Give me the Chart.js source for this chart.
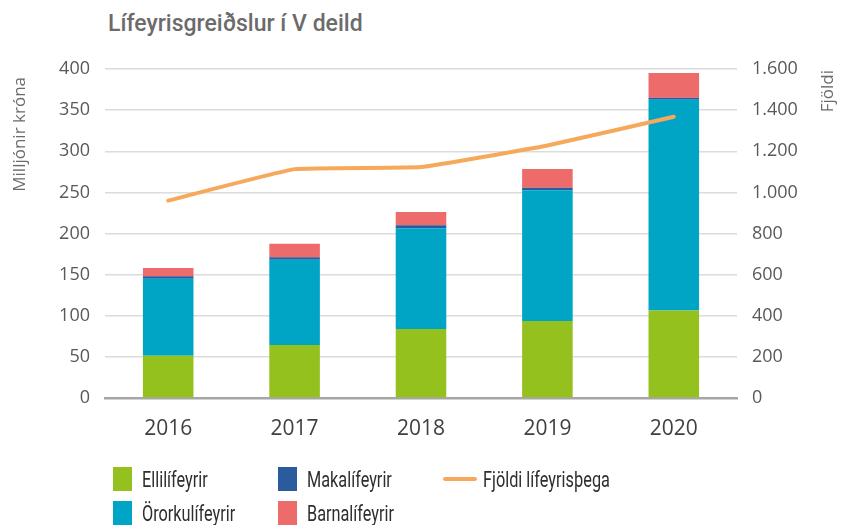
<!DOCTYPE html>
<html lang="is">
<head>
<meta charset="utf-8">
<title>Lífeyrisgreiðslur í V deild</title>
<script src="https://cdn.jsdelivr.net/npm/chart.js@4.4.1/dist/chart.umd.min.js"></script>
<style>
  html, body { margin: 0; padding: 0; background: #fff; }
  body { width: 844px; height: 525px; position: relative; overflow: hidden; font-family: 'Open Sans', sans-serif; }
  #title { position: absolute; left: 108px; top: 12px; font: 500 23px/23px Roboto, sans-serif; color: #6b6b6b; }
  #wrap { position: absolute; left: 0; top: 0; width: 844px; height: 450px; }
  #legend { position: absolute; left: 0; top: 0; width: 844px; height: 525px; pointer-events: none; }
  .lg-item { position: absolute; display: flex; align-items: center; white-space: nowrap; }
  .lg-text { display: inline-block; font: 22px Roboto, sans-serif; color: #2e2e2e; transform: scaleX(0.74); transform-origin: left center; }
  .lg-box { width: 19px; height: 24px; margin-right: 10px; }
  .lg-line { width: 34px; height: 4px; border-radius: 2px; margin-right: 6px; }
</style>
</head>
<body>
<div id="title">Lífeyrisgreiðslur í V deild</div>
<div id="wrap"><canvas id="chart"></canvas></div>
<div id="legend"></div>
<script>
// Lífeyrisgreiðslur í V deild — staflaðar súlur (m.kr.) + lína (fjöldi)

const years = ['2016', '2017', '2018', '2019', '2020'];
const ellilifeyrir = [51.5, 64.5, 84, 93.5, 106.5];
const ororkulifeyrir = [93.5, 103.5, 122.5, 159, 256];
const makalifeyrir = [3, 3, 3.5, 3, 2.5];
const barnalifeyrir = [10, 16.5, 16, 23, 30];
const fjoldi = [960, 1113, 1123, 1228, 1368];

const leftTicks = [0, 50, 100, 150, 200, 250, 300, 350, 400];
const rightTicks = [0, 200, 400, 600, 800, 1000, 1200, 1400, 1600];

const colors = {
  elli: '#95c11f',
  ororku: '#00a5c6',
  maka: '#2a5b9c',
  barna: '#ee6b6b',
  fjoldi: '#f6a95a'
};

const tickFont = { family: "'Open Sans', sans-serif", size: 18 };

// ásatitlar teiknaðir sér svo báðir lesist neðan frá og upp
const axisTitles = {
  id: 'axisTitles',
  afterDraw(chart) {
    const { ctx, chartArea } = chart;
    const draw = (text, x, y) => {
      ctx.save();
      ctx.font = "17px 'Open Sans', sans-serif";
      ctx.fillStyle = '#6b6b6b';
      ctx.textBaseline = 'middle';
      ctx.textAlign = 'right';
      ctx.translate(x, y);
      ctx.rotate(-Math.PI / 2);
      ctx.fillText(text, 0, 0);
      ctx.restore();
    };
    draw('Milljónir króna', 20, chartArea.top + 8);
    draw('Fjöldi', 828, chartArea.top + 1);
  }
};

const barDs = (label, data, color) => ({
  type: 'bar', label, data, backgroundColor: color, yAxisID: 'y',
  stack: 's', order: 1, categoryPercentage: 1, barPercentage: 0.4
});

const chart = new Chart(document.getElementById('chart'), {
  data: {
    labels: years,
    datasets: [
      {
        type: 'line', label: 'Fjöldi lífeyrisþega', data: fjoldi, yAxisID: 'y1',
        borderColor: colors.fjoldi, borderWidth: 4, pointRadius: 0,
        tension: 0.1, borderCapStyle: 'round', order: 0
      },
      barDs('Ellilífeyrir', ellilifeyrir, colors.elli),
      barDs('Örorkulífeyrir', ororkulifeyrir, colors.ororku),
      barDs('Makalífeyrir', makalifeyrir, colors.maka),
      barDs('Barnalífeyrir', barnalifeyrir, colors.barna)
    ]
  },
  options: {
    responsive: true,
    maintainAspectRatio: false,
    animation: false,
    layout: { padding: { top: 69, left: 0, right: 0, bottom: 0 } },
    plugins: { legend: { display: false }, tooltip: { enabled: false } },
    scales: {
      x: {
        stacked: true,
        grid: { display: false, drawTicks: false },
        border: { color: '#a6a6a6', width: 2.5 },
        ticks: { color: '#404040', font: { family: "'Open Sans', sans-serif", size: 21 }, padding: 18 },
        afterFit(s) { s.height = 52; }
      },
      y: {
        stacked: true,
        position: 'left',
        min: 0, max: 400,
        afterBuildTicks(s) { s.ticks = leftTicks.map(v => ({ value: v })); },
        grid: {
          drawTicks: false,
          color: c => c.tick.value === 0 ? 'rgba(0,0,0,0)' : '#dcdcdc',
          lineWidth: 1.5
        },
        border: { display: false },
        ticks: { color: '#595959', font: tickFont, padding: 15 },
        afterFit(s) { s.width = 105; }
      },
      y1: {
        position: 'right',
        min: 0, max: 1600,
        afterBuildTicks(s) { s.ticks = rightTicks.map(v => ({ value: v })); },
        grid: { display: false, drawTicks: false },
        border: { display: false },
        ticks: {
          color: '#595959', font: tickFont, padding: 15,
          callback: v => v.toLocaleString('de-DE')
        },
        afterFit(s) { s.width = 107; }
      }
    }
  },
  plugins: [axisTitles]
});

// skýringar í tveimur röðum, þremur dálkum
const legendItems = [
  { label: 'Ellilífeyrir', color: colors.elli, x: 113, y: 479, kind: 'box' },
  { label: 'Örorkulífeyrir', color: colors.ororku, x: 113, y: 513, kind: 'box' },
  { label: 'Makalífeyrir', color: colors.maka, x: 278, y: 479, kind: 'box' },
  { label: 'Barnalífeyrir', color: colors.barna, x: 278, y: 513, kind: 'box' },
  { label: 'Fjöldi lífeyrisþega', color: colors.fjoldi, x: 443, y: 479, kind: 'line' }
];

document.getElementById('legend').innerHTML = legendItems.map(it => `
  <div class="lg-item" style="left:${it.x}px;top:${it.y - 12}px;height:24px">
    <span class="${it.kind === 'box' ? 'lg-box' : 'lg-line'}" style="background:${it.color}"></span><span class="lg-text">${it.label}</span>
  </div>`).join('');
</script>
</body>
</html>
